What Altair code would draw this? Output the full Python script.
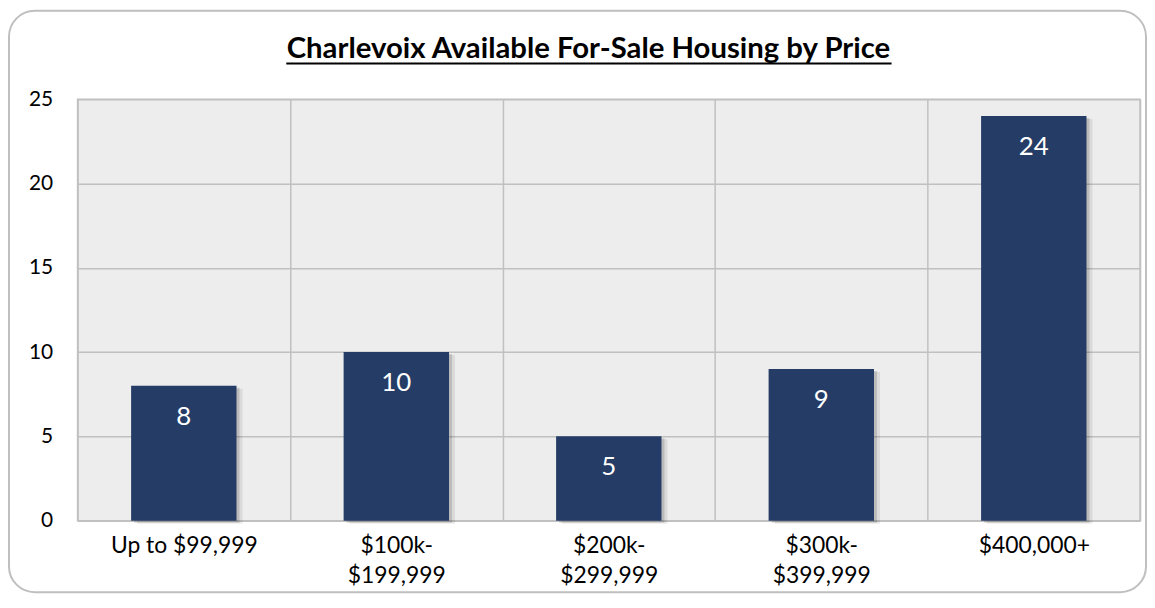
import altair as alt
import pandas as pd

categories = ["Up to $99,999", "$100k-$199,999", "$200k-$299,999", "$300k-$399,999", "$400,000+"]
counts = [8, 10, 5, 9, 24]
title_text = "Charlevoix Available For-Sale Housing by Price"
y_ticks = [0, 5, 10, 15, 20, 25]

df = pd.DataFrame({"cat": categories, "n": counts})
one = pd.DataFrame({"k": [0]})

W, H = 1069, 424
FONT = "Lato"
GRID = "#C0C0C0"
BAR = "#253C66"

label_expr = ("indexof(datum.label, 'k-') > 0 ? "
              "[substring(datum.label, 0, indexof(datum.label, 'k-') + 2), "
              "substring(datum.label, indexof(datum.label, 'k-') + 2)] : datum.label")

x = alt.X("cat:N", sort=categories,
          scale=alt.Scale(paddingInner=0, paddingOuter=0),
          axis=alt.Axis(title=None, tickBand="extent", grid=True, ticks=False, domain=False,
                        labelAngle=0, labelFontSize=23, labelPadding=14, labelLineHeight=30,
                        labelExpr=label_expr, labelColor="#000", labelFont=FONT,
                        gridColor=GRID, gridWidth=1.5))
y = alt.Y("n:Q", scale=alt.Scale(domain=[0, 25], nice=False),
          axis=alt.Axis(values=y_ticks, title=None, ticks=False, domain=False,
                        labelFontSize=21, labelPadding=25, labelColor="#000", labelFont=FONT,
                        gridColor=GRID, gridWidth=1.5))

base = alt.Chart(df)
BW = alt.RelativeBandSize(0.496)

shadow1 = base.mark_bar(width=BW, color="#000", opacity=0.08,
                        xOffset=6, yOffset=3).encode(x=x, y=y)
shadow2 = base.mark_bar(width=BW, color="#000", opacity=0.14,
                        xOffset=3, yOffset=2).encode(x=x, y=y)
bars = base.mark_bar(width=BW, color=BAR).encode(x=x, y=y)
labels = base.mark_text(dy=31, baseline="middle", color="white", fontSize=26, font=FONT).encode(
    x=x, y=y, text="n:Q")

frame = alt.Chart(one).mark_rect(filled=False, stroke="#BFBFBF", strokeWidth=2, cornerRadius=26).encode(
    x=alt.value(-69), x2=alt.value(W + 6), y=alt.value(-89), y2=alt.value(H + 72))
title = alt.Chart(one).mark_text(fontSize=29.5, fontWeight="bold", font=FONT, color="#000",
                                 baseline="alphabetic", align="center").encode(
    x=alt.value(514), y=alt.value(-41), text=alt.value(title_text))
underline = alt.Chart(one).mark_rule(color="#000", strokeWidth=2).encode(
    x=alt.value(210), x2=alt.value(819), y=alt.value(-36))

chart = alt.layer(frame, title, underline, shadow1, shadow2, bars, labels).properties(
    width=W, height=H, background="white",
    autosize=alt.AutoSizeParams(type="none"),
    padding={"left": 70, "top": 90, "right": 7, "bottom": 74},
).configure_view(fill="#EDEDED", stroke=GRID, strokeWidth=1.5)

chart.save("out.html", embed_options={"renderer": "svg", "actions": False})
